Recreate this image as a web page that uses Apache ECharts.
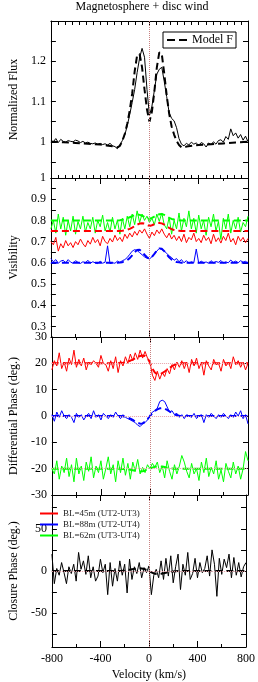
<!DOCTYPE html>
<html><head><meta charset="utf-8">
<script src="https://cdn.jsdelivr.net/npm/echarts@6/dist/echarts.min.js"></script>
<style>html,body{margin:0;padding:0;background:#fff}#c{width:258px;height:682px}</style>
</head><body><div id="c"></div><script>
// ---------- DATA ----------
const velocity = [-800,-780,-760,-740,-720,-700,-680,-660,-640,-620,-600,-580,-560,-540,-520,-500,-480,-460,-440,-420,-400,-380,-360,-340,-320,-300,-280,-260,-240,-220,-200,-180,-160,-140,-120,-100,-80,-60,-40,-20,0,20,40,60,80,100,120,140,160,180,200,220,240,260,280,300,320,340,360,380,400,420,440,460,480,500,520,540,560,580,600,620,640,660,680,700,720,740,760,780,800];
const fluxObs = [1.003,1.000,1.008,0.998,1.006,1.001,0.999,1.003,1.001,1.000,1.004,1.002,0.998,1.001,0.997,0.999,0.996,0.995,0.997,0.994,0.996,0.993,0.995,0.992,0.996,0.990,0.988,0.983,0.992,1.003,1.017,1.040,1.068,1.098,1.130,1.172,1.208,1.232,1.210,1.130,1.065,1.088,1.128,1.168,1.180,1.185,1.150,1.112,1.072,1.058,1.052,1.035,1.008,0.994,0.990,0.996,0.992,0.999,0.994,0.997,0.991,0.998,0.995,0.987,0.997,0.993,1.000,0.994,1.003,1.005,0.999,1.013,1.006,1.032,1.015,1.022,1.009,1.018,1.004,1.014,1.000];
const visRedObs = [0.700,0.685,0.720,0.655,0.690,0.670,0.705,0.680,0.695,0.672,0.700,0.685,0.712,0.690,0.675,0.705,0.688,0.720,0.695,0.710,0.680,0.725,0.700,0.690,0.715,0.698,0.730,0.705,0.720,0.700,0.735,0.715,0.740,0.722,0.748,0.730,0.755,0.740,0.760,0.735,0.715,0.745,0.728,0.755,0.738,0.760,0.735,0.718,0.740,0.712,0.730,0.705,0.725,0.700,0.735,0.695,0.720,0.708,0.740,0.700,0.715,0.695,0.730,0.705,0.720,0.690,0.735,0.700,0.718,0.693,0.725,0.705,0.740,0.698,0.715,0.685,0.725,0.702,0.720,0.695,0.715];
const visGreenObs = [0.760,0.800,0.740,0.830,0.760,0.815,0.730,0.800,0.750,0.820,0.735,0.795,0.760,0.820,0.745,0.790,0.760,0.815,0.740,0.800,0.770,0.825,0.750,0.790,0.745,0.815,0.760,0.800,0.735,0.810,0.760,0.820,0.770,0.830,0.780,0.845,0.790,0.830,0.800,0.820,0.790,0.810,0.780,0.830,0.795,0.835,0.780,0.760,0.815,0.735,0.800,0.760,0.835,0.750,0.810,0.770,0.845,0.760,0.810,0.740,0.825,0.760,0.800,0.730,0.815,0.770,0.830,0.750,0.795,0.710,0.810,0.760,0.830,0.740,0.800,0.760,0.815,0.745,0.790,0.770,0.820];
const visBlueObs = [0.620,0.605,0.615,0.598,0.608,0.612,0.600,0.615,0.603,0.598,0.610,0.602,0.597,0.605,0.600,0.612,0.598,0.605,0.600,0.596,0.608,0.598,0.603,0.680,0.596,0.600,0.598,0.608,0.602,0.610,0.615,0.625,0.640,0.655,0.662,0.658,0.648,0.638,0.628,0.622,0.618,0.628,0.642,0.655,0.668,0.662,0.655,0.645,0.632,0.625,0.612,0.620,0.605,0.615,0.600,0.610,0.598,0.605,0.600,0.665,0.598,0.608,0.600,0.604,0.598,0.610,0.600,0.606,0.602,0.611,0.599,0.604,0.600,0.613,0.602,0.608,0.600,0.610,0.603,0.607,0.598];
const phaseRedObs = [17.5,21.0,19.0,24.0,18.0,20.5,17.0,22.0,19.5,25.0,18.5,21.5,19.0,22.0,17.5,20.5,19.5,21.0,20.0,18.5,23.0,20.0,19.5,17.0,21.0,18.0,22.5,16.5,21.0,19.0,22.5,20.0,23.5,21.0,24.0,21.5,25.0,22.0,24.5,22.0,20.5,15.5,13.5,17.0,14.0,16.5,15.0,18.0,16.0,19.5,17.5,20.5,18.5,21.0,18.0,20.5,16.5,21.5,19.0,22.0,18.0,20.5,15.5,21.0,19.0,17.5,21.5,19.5,20.0,17.0,21.5,19.0,20.5,18.0,22.5,19.5,21.0,18.5,20.5,17.5,20.0];
const phaseBlueObs = [0.5,-2.0,1.5,-0.5,2.0,0.0,-1.0,0.5,-0.5,-2.5,1.0,-0.5,0.5,-1.5,0.0,1.0,-1.0,2.0,-0.5,0.5,-1.5,1.0,0.0,-1.0,0.5,-0.5,1.5,0.0,-1.0,0.5,-0.5,-1.0,-1.5,-2.0,-2.5,-3.5,-4.0,-3.0,-2.5,-1.5,0.0,1.5,2.0,3.0,5.5,6.0,5.5,3.5,1.5,2.0,0.5,1.0,-0.5,0.5,-1.0,0.5,0.0,-0.5,1.0,-1.0,0.0,0.5,-2.5,0.5,-0.5,1.0,0.0,-1.0,0.5,-0.5,1.0,0.0,-1.0,0.5,-0.5,1.5,0.0,2.0,-1.0,0.5,-3.0];
const phaseGreenObs = [-20.0,-22.0,-17.0,-24.0,-19.0,-21.5,-16.0,-23.0,-18.5,-25.0,-16.0,-22.0,-19.0,-24.5,-17.5,-21.0,-15.5,-23.5,-19.0,-21.5,-17.0,-24.0,-20.0,-15.5,-22.0,-18.5,-25.0,-17.0,-21.5,-16.0,-22.5,-18.0,-24.0,-17.5,-21.0,-16.5,-22.0,-19.5,-21.5,-18.5,-20.0,-18.0,-19.5,-17.5,-21.5,-19.0,-23.5,-17.0,-21.0,-24.0,-18.5,-22.0,-19.0,-15.0,-17.5,-21.0,-23.5,-18.0,-22.0,-20.0,-24.5,-17.5,-21.5,-16.0,-23.0,-19.5,-22.0,-17.0,-24.0,-20.5,-25.0,-18.0,-21.0,-23.5,-17.5,-22.0,-19.0,-24.0,-20.0,-13.5,-17.0];
const closureObs = [20,-15,3,-5,10,-2,-15,5,-3,8,-12,22,2,12,-4,18,-8,5,-12,-6,14,-2,8,-28,10,-18,3,-12,12,-5,8,-26,14,-10,5,-3,10,-8,4,-2,6,-28,-5,2,-8,12,-10,15,-6,18,-14,5,20,-22,8,-5,22,-10,-3,15,-8,10,-2,3,18,-6,25,8,-30,15,-4,14,4,20,-8,16,-5,10,-7,5,10];

const modelVelocity = [-800,-700,-600,-500,-400,-350,-300,-260,-240,-220,-200,-180,-160,-140,-120,-100,-80,-60,-40,-20,0,20,40,60,80,100,120,140,160,180,200,220,240,260,280,300,350,400,500,600,700,800];
const fluxModel = [1.000,0.999,0.997,0.995,0.993,0.991,0.989,0.986,0.990,1.002,1.020,1.045,1.078,1.120,1.175,1.215,1.218,1.185,1.130,1.080,1.050,1.075,1.125,1.185,1.222,1.218,1.170,1.115,1.070,1.038,1.018,1.002,0.992,0.986,0.986,0.988,0.990,0.992,0.994,0.996,0.998,1.000];
const visRedModel = [0.75,0.75,0.75,0.75,0.75,0.75,0.75,0.75,0.750,0.751,0.753,0.756,0.760,0.766,0.773,0.780,0.785,0.787,0.785,0.779,0.774,0.777,0.782,0.786,0.788,0.786,0.780,0.772,0.765,0.759,0.755,0.752,0.751,0.750,0.75,0.75,0.75,0.75,0.75,0.75,0.75,0.75];
const visGreenModel = [0.8,0.8,0.8,0.8,0.8,0.8,0.8,0.8,0.801,0.803,0.806,0.810,0.815,0.820,0.825,0.828,0.826,0.822,0.816,0.811,0.808,0.812,0.818,0.824,0.829,0.830,0.826,0.819,0.812,0.807,0.804,0.802,0.801,0.800,0.8,0.8,0.8,0.8,0.8,0.8,0.8,0.8];
const visBlueModel = [0.6,0.6,0.6,0.6,0.6,0.6,0.6,0.6,0.601,0.603,0.607,0.613,0.622,0.635,0.650,0.660,0.662,0.652,0.638,0.626,0.620,0.628,0.642,0.658,0.668,0.666,0.655,0.640,0.626,0.615,0.608,0.604,0.602,0.600,0.6,0.6,0.6,0.6,0.6,0.6,0.6,0.6];
const phaseRedModel = [20,20,20,20,20,20,20,20,20.1,20.2,20.4,20.7,21.0,21.4,21.9,22.4,22.8,23.0,22.8,22.0,20.3,18.0,16.5,15.8,15.8,16.3,16.9,17.6,18.3,18.9,19.4,19.7,19.9,20.0,20,20,20,20,20,20,20,20];
const phaseBlueModel = [0,0,0,0,0,0,0,0,0,-0.1,-0.3,-0.6,-1.0,-1.5,-2.1,-2.6,-2.9,-2.8,-2.2,-1.2,0.0,1.1,1.9,2.5,2.9,3.0,2.8,2.3,1.7,1.1,0.6,0.3,0.1,0,0,0,0,0,0,0,0,0];
const phaseGreenModel = [-20,-20,-20,-20,-20,-20,-20,-20,-20.0,-20.1,-20.2,-20.3,-20.4,-20.6,-20.8,-21.0,-21.1,-21.0,-20.7,-20.3,-20.0,-19.6,-19.3,-19.1,-19.1,-19.2,-19.4,-19.6,-19.8,-19.9,-20.0,-20.0,-20.0,-20.0,-20,-20,-20,-20,-20,-20,-20,-20];
const closureModel = [0,0,0,0,0,0,0,0,0,0.2,0.5,1.0,1.5,2.0,2.5,3.0,3.2,3.0,2.4,1.2,0,-1.5,-2.8,-3.5,-3.6,-3.2,-2.6,-2.0,-1.4,-0.9,-0.5,-0.2,0,0,0,0,0,0,0,0,0,0];

const seriesNames = ['BL=45m (UT2-UT3)','BL=88m (UT2-UT4)','BL=62m (UT3-UT4)'];
const modelName = 'Model F';
const titleText = 'Magnetosphere + disc wind';
const yNames = ['Normalized Flux','Visibility','Differential Phase (deg.)','Closure Phase (deg.)'];
const xName = 'Velocity (km/s)';
const xLabels = [-800,-400,0,400,800];
const fluxLabels = [1,1.1,1.2];
const fluxTicks = [0.95,1,1.05,1.1,1.15,1.2,1.25];
const visLabels = [0.3,0.4,0.5,0.6,0.7,0.8,0.9,1];
const visTicks = [0.3,0.35,0.4,0.45,0.5,0.55,0.6,0.65,0.7,0.75,0.8,0.85,0.9,0.95];
const dphLabels = [-30,-20,-10,0,10,20,30];
const dphTicks = [-20,-10,0,10,20];
const cphLabels = [-50,0,50];
const cphTicks = [-75,-50,-25,0,25,50,75];

// ---------- CHART ----------
const FONT = 'Liberation Serif';
const TICK = '#000';
const pairs = (xs, ys) => xs.map((x, i) => [x, ys[i]]);
const grids = [
  {left:36, width:212, top:21, height:157},
  {left:36, width:212, top:178, height:159},
  {left:36, width:212, top:337, height:158},
  {left:36, width:212, top:495, height:158}
];
const ranges = [[0.91,1.3],[0.25,1.0],[-30,30],[-90,90]];
const yLab = [fluxLabels, visLabels, dphLabels, cphLabels];
const yTk = [fluxTicks, visTicks, dphTicks, cphTicks];
const fineTicks = [];
for (let i = 0; i <= 28; i++) fineTicks.push(-800 + i * 1600 / 28);

const line = {show:true, onZero:false, lineStyle:{color:'#000', width:1}};
const xAxis = [], yAxis = [];
grids.forEach((g, p) => {
  ['bottom','top'].forEach(pos => {
    const ax = {
      type:'value', gridIndex:p, position:pos, min:-800, max:800, interval:400,
      axisLine: line, splitLine:{show:false},
      axisLabel:{show:false}
    };
    if (p === 0) {
      ax.axisTick = {show:true, inside:true, length: pos === 'top' ? 4 : 3, customValues: fineTicks, lineStyle:{color:TICK}};
      ax.minorTick = {show:false};
    } else {
      ax.axisTick = {show:true, inside:true, length:6, lineStyle:{color:TICK}};
      ax.minorTick = {show:true, splitNumber:2, length:3, lineStyle:{color:TICK}};
    }
    if (p === 3 && pos === 'bottom') {
      ax.axisLabel = {show:true, customValues:xLabels, margin:6, fontFamily:FONT, fontSize:12, color:'#000'};
      ax.name = xName; ax.nameLocation = 'middle'; ax.nameGap = 22;
      ax.nameTextStyle = {fontFamily:FONT, fontSize:12, color:'#000'};
    }
    xAxis.push(ax);
  });
  ['left','right'].forEach(pos => {
    const ay = {
      type:'value', gridIndex:p, position:pos, min:ranges[p][0], max:ranges[p][1],
      axisLine: line, splitLine:{show:false},
      axisTick:{show:true, inside:true, length:5, customValues:yTk[p], lineStyle:{color:TICK}},
      axisLabel:{show:false}
    };
    if (pos === 'left') {
      ay.axisLabel = {show:true, customValues:yLab[p], margin:5, fontFamily:FONT, fontSize:12, color:'#000',
        formatter: v => String(Number(Number(v).toFixed(2)))};
      ay.name = yNames[p]; ay.nameLocation = 'middle'; ay.nameGap = 22;
      ay.nameTextStyle = {fontFamily:FONT, fontSize:12, color:'#000'};
    }
    yAxis.push(ay);
  });
});

const vline = {xAxis:0, lineStyle:{type:'dotted', color:'#c88080', width:1}};
const hl = v => ({yAxis:v, lineStyle:{type:'dotted', color:'#e8a0a8', width:1}});
const mk = data => ({silent:true, symbol:'none', label:{show:false}, data});
const solid = (name, p, xs, ys, color, extra) => Object.assign({
  name, type:'line', xAxisIndex:2*p, yAxisIndex:2*p, data:pairs(xs, ys), symbol:'none',
  lineStyle:{color, width:1}, itemStyle:{color}, animation:false
}, extra || {});
const dashed = (name, p, xs, ys, color, extra) => Object.assign({
  name, type:'line', xAxisIndex:2*p, yAxisIndex:2*p, data:pairs(xs, ys), symbol:'none',
  lineStyle:{color, width:2, type:[7,4]}, itemStyle:{color}, animation:false
}, extra || {});

const RED = '#ff0000', BLUE = '#0000ff', GREEN = '#00ff00';
const series = [
  solid('flux', 0, velocity, fluxObs, '#000', {markLine: mk([vline])}),
  dashed(modelName, 0, modelVelocity, fluxModel, '#000'),
  solid(seriesNames[2], 1, velocity, visGreenObs, GREEN, {markLine: mk([vline])}),
  solid(seriesNames[0], 1, velocity, visRedObs, RED),
  dashed('gm', 1, modelVelocity, visGreenModel, GREEN),
  dashed('rm', 1, modelVelocity, visRedModel, RED),
  solid(seriesNames[1], 1, velocity, visBlueObs, BLUE),
  dashed('bm', 1, modelVelocity, visBlueModel, BLUE),
  solid('dg', 2, velocity, phaseGreenObs, GREEN, {markLine: mk([vline, hl(20), hl(0), hl(-20)])}),
  solid('dr', 2, velocity, phaseRedObs, RED),
  dashed('dgm', 2, modelVelocity, phaseGreenModel, GREEN),
  dashed('drm', 2, modelVelocity, phaseRedModel, RED),
  solid('db', 2, velocity, phaseBlueObs, BLUE),
  dashed('dbm', 2, modelVelocity, phaseBlueModel, BLUE),
  solid('cp', 3, velocity, closureObs, '#000', {markLine: mk([vline, hl(0)])}),
  dashed('cpm', 3, modelVelocity, closureModel, '#000')
];

const chart = echarts.init(document.getElementById('c'), null, {renderer:'canvas'});
chart.setOption({
  animation:false,
  backgroundColor:'#fff',
  title:{text:titleText, left:142, top:1, padding:0, textAlign:'center',
    textStyle:{fontFamily:FONT, fontSize:12, fontWeight:'normal', color:'#000'}},
  grid: grids,
  xAxis, yAxis,
  legend:[
    {data:[{name:modelName, icon:'path://M0,0H8V2H0Z M12,0H20V2H12Z'}], left:163, top:32, itemWidth:20, itemHeight:2,
     itemGap:0, padding:[2,3,2,4], borderColor:'#000', borderWidth:1, borderRadius:0,
     textStyle:{fontFamily:FONT, fontSize:12, color:'#000'}},
    {data:seriesNames.map(n => ({name:n, icon:'rect'})), left:40, top:509, orient:'vertical',
     itemWidth:18, itemHeight:2, itemGap:2, padding:0,
     textStyle:{fontFamily:FONT, fontSize:9, color:'#222', lineHeight:9}}
  ],
  series
});
</script></body></html>
